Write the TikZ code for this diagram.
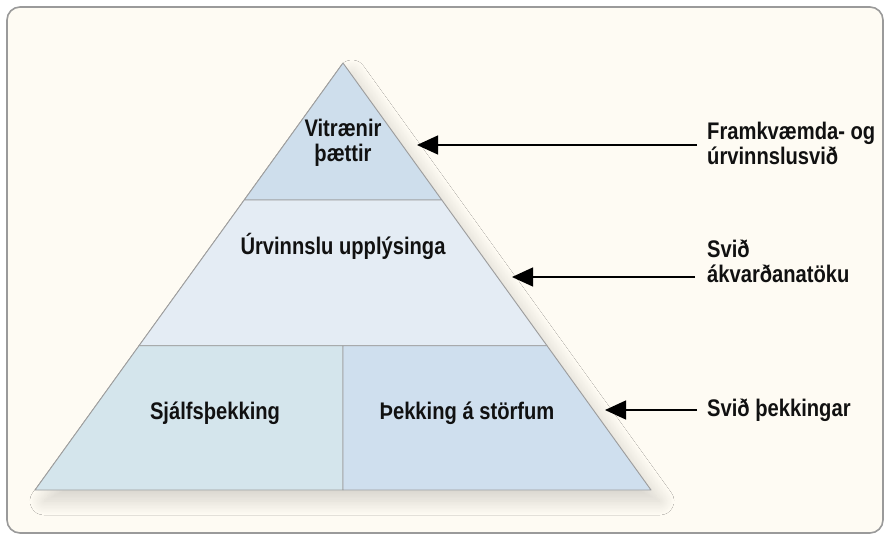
\documentclass[tikz,border=0pt]{standalone}
\usepackage{fontspec}
\newfontfamily\lab{Liberation Sans}[FakeStretch=0.84]
\usetikzlibrary{arrows.meta,shadows.blur}
\definecolor{bgc}{HTML}{FEFBF3}
\definecolor{framec}{HTML}{9A9A9A}
\definecolor{tiertop}{HTML}{CEDEEC}
\definecolor{tiermid}{HTML}{E4ECF4}
\definecolor{tierbl}{HTML}{D4E5EC}
\definecolor{tierbr}{HTML}{CFDFEE}
\definecolor{edgec}{HTML}{9C9C9C}
\definecolor{txt}{HTML}{111111}
\tikzset{
  tier/.style={draw=edgec, line width=0.9pt, line join=round},
  lbl/.style={font=\lab\bfseries\fontsize{24}{25}\selectfont, text=txt, inner sep=0pt, align=center},
  sidelbl/.style={font=\lab\bfseries\fontsize{24}{25}\selectfont, text=txt, inner sep=0pt, align=left, anchor=west},
  pointer/.style={draw=black, line width=1.3pt, -{Triangle[length=21pt,width=19pt]}}
}
\begin{document}
\begin{tikzpicture}[x=1pt,y=-1pt]
\useasboundingbox (0,0) rectangle (890,540);
\fill[white] (0,0) rectangle (890,540);
\draw[framec, line width=1.6pt, fill=bgc, rounded corners=13pt] (7,7) rectangle (883,533);
% shadow of pyramid
\path[fill=bgc, blur shadow={shadow xshift=9pt, shadow yshift=-11pt, shadow blur radius=14pt, shadow blur steps=24, shadow opacity=16}] (343,63) -- (651,490) -- (35,490) -- cycle;
% tiers
\path[tier, fill=tiertop] (343,63) -- (441.8,200) -- (244.2,200) -- cycle;
\path[tier, fill=tiermid] (244.2,200) -- (441.8,200) -- (547,345.7) -- (139,345.7) -- cycle;
\path[tier, fill=tierbl] (139,345.7) -- (343,345.7) -- (343,490) -- (35,490) -- cycle;
\path[tier, fill=tierbr] (343,345.7) -- (547,345.7) -- (651,490) -- (343,490) -- cycle;
% labels
\node[lbl] (vit) at (343,143) {Vitrænir\\þættir};
\node[lbl] (urv) at (343,246) {Úrvinnslu upplýsinga};
\node[lbl] (sja) at (215,413) {Sjálfsþekking};
\node[lbl] (thek) at (467,413) {Þekking á störfum};
\node[sidelbl] (fram) at (707,143) {Framkvæmda- og\\úrvinnslusvið};
\node[sidelbl] (akv) at (707,261) {Svið\\ákvarðanatöku};
\node[sidelbl] (svth) at (707,410) {Svið þekkingar};
% arrow tips
\coordinate (t1) at (417,145);
\coordinate (t2) at (512,277);
\coordinate (t3) at (605,410);
\draw[pointer] (fram.west |- t1) ++(-10,0) -- (t1);
\draw[pointer] (akv.west |- t2) ++(-12,0) -- (t2);
\draw[pointer] (svth.west |- t3) ++(-10,0) -- (t3);
\end{tikzpicture}
\end{document}
